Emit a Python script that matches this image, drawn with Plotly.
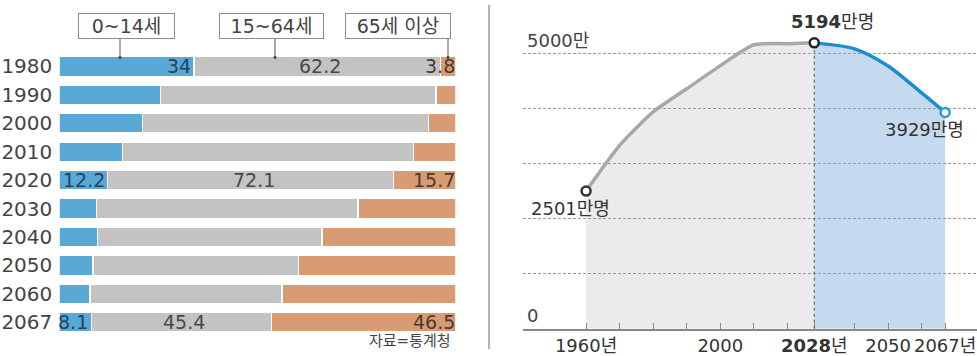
import plotly.graph_objects as go

# ---------------- data ----------------
bar_years = ["1980", "1990", "2000", "2010", "2020", "2030", "2040", "2050", "2060", "2067"]
age_0_14 = [34.0, 25.5, 21.0, 16.0, 12.2, 9.4, 9.6, 8.5, 7.8, 8.1]
age_15_64 = [62.2, 69.5, 72.2, 73.4, 72.1, 65.9, 56.7, 51.8, 48.4, 45.4]
age_65_up = [3.8, 5.0, 6.8, 10.6, 15.7, 24.7, 33.7, 39.7, 43.8, 46.5]
labeled_rows = ["1980", "2020", "2067"]
legend_names = ["0~14세", "15~64세", "65세 이상"]

past_years = [1960, 1970, 1980, 1990, 2000, 2010, 2020, 2028]
past_pop = [2501, 3330, 3940, 4360, 4780, 5160, 5180, 5194]
proj_years = [2028, 2040, 2050, 2060, 2067]
proj_pop = [5194, 5086, 4774, 4284, 3929]

x_tickvals = [1960, 1970, 1980, 1990, 2000, 2010, 2020, 2028, 2040, 2050, 2060, 2067]
x_ticktext = ["1960년", "", "", "", "2000", "", "", "<b>2028</b>년", "", "2050", "", "2067년"]
y_tickvals = [0, 1000, 2000, 3000, 4000, 5000]
y_ticktext = ["0", "", "", "", "", "5000만"]

FONT = "DejaVu Sans, Noto Sans CJK KR, sans-serif"
W, H = 977, 356

C_BLUE = "#59a8d6"
C_GRAY = "#c3c3c3"
C_ORANGE = "#d99b74"

fig = go.Figure()

# ---------------- left: stacked bars ----------------
for vals, col in [(age_0_14, C_BLUE), (age_15_64, C_GRAY), (age_65_up, C_ORANGE)]:
    fig.add_trace(go.Bar(
        y=bar_years, x=vals, orientation="h", xaxis="x", yaxis="y",
        marker=dict(color=col, line=dict(color="white", width=1.5)),
        hoverinfo="skip", showlegend=False))

annotations = []
for i, yr in enumerate(bar_years):
    if yr not in labeled_rows:
        continue
    b = age_0_14[i]
    g = age_15_64[i]
    o = age_65_up[i]
    annotations.append(dict(x=b, y=i, xref="x", yref="y", text=f"{b:g}", showarrow=False,
                            xanchor="right", xshift=-1, font=dict(size=19, color="#24435e", family=FONT)))
    annotations.append(dict(x=b + g / 2, y=i, xref="x", yref="y", text=f"{g:g}", showarrow=False,
                            xanchor="center", xshift=3, font=dict(size=19, color="#484848", family=FONT)))
    annotations.append(dict(x=b + g + o, y=i, xref="x", yref="y", text=f"{o:g}", showarrow=False,
                            xanchor="right", xshift=1, font=dict(size=19, color="#4a3a30", family=FONT)))

# legend boxes (pixel based decoration)
box_specs = [(legend_names[0], 126.5, 93, 120), (legend_names[1], 271.5, 101, 275), (legend_names[2], 398, 102, 448)]
shapes = []
for name, cx, w, px in box_specs:
    annotations.append(dict(x=cx / W, y=1 - 26 / H, xref="paper", yref="paper", text=name, showarrow=False,
                            xanchor="center", yanchor="middle", width=w, height=22, borderpad=1,
                            bordercolor="#8c8c8c", borderwidth=1, bgcolor="white",
                            font=dict(size=19, color="#444", family=FONT)))
    shapes.append(dict(type="line", xref="paper", yref="paper", x0=px / W, x1=px / W,
                       y0=1 - 39 / H, y1=1 - 58 / H, line=dict(color="#555", width=1)))
    shapes.append(dict(type="circle", xref="paper", yref="paper", x0=(px - 1.5) / W, x1=(px + 1.5) / W,
                       y0=1 - 59.5 / H, y1=1 - 56.5 / H, fillcolor="#444", line=dict(width=0)))

annotations.append(dict(x=453 / W, y=1 - 355 / H, xref="paper", yref="paper", text="자료=통계청",
                        showarrow=False, xanchor="right", yanchor="bottom",
                        font=dict(size=15, color="#444", family=FONT)))

# separator
shapes.append(dict(type="line", xref="paper", yref="paper", x0=489 / W, x1=489 / W, y0=4 / H, y1=1 - 5 / H,
                   line=dict(color="#b4b4b4", width=2)))

# ---------------- right: population line ----------------
fig.add_trace(go.Scatter(
    x=past_years, y=past_pop, xaxis="x2", yaxis="y2", mode="lines",
    line=dict(color="#a8a8a8", width=3.5, shape="spline", smoothing=0.6),
    fill="tozeroy", fillcolor="rgba(150,150,150,0.19)", hoverinfo="skip", showlegend=False))
fig.add_trace(go.Scatter(
    x=proj_years, y=proj_pop, xaxis="x2", yaxis="y2", mode="lines",
    line=dict(color="#1a8dd0", width=3.5, shape="spline", smoothing=0.8),
    fill="tozeroy", fillcolor="rgba(120,170,215,0.43)", hoverinfo="skip", showlegend=False))

# dotted vertical line at peak year
shapes.append(dict(type="line", xref="x2", yref="y2", x0=past_years[-1], x1=past_years[-1],
                   y0=0, y1=past_pop[-1] * 0.975, line=dict(color="#555", width=1, dash="dot")))

fig.add_trace(go.Scatter(
    x=[past_years[0], past_years[-1], proj_years[-1]],
    y=[past_pop[0], past_pop[-1], proj_pop[-1]],
    xaxis="x2", yaxis="y2", mode="markers",
    marker=dict(symbol="circle", size=9, color="white",
                line=dict(color=["#333", "#222", "#2a9ad6"], width=2.5)),
    hoverinfo="skip", showlegend=False))

annotations.append(dict(x=past_years[-1], y=past_pop[-1], xref="x2", yref="y2",
                        text=f"<b>{past_pop[-1]}</b>만명", showarrow=False,
                        xanchor="center", yanchor="bottom", xshift=18, yshift=9,
                        font=dict(size=18, color="#333", family=FONT)))
annotations.append(dict(x=proj_years[-1], y=proj_pop[-1], xref="x2", yref="y2",
                        text=f"{proj_pop[-1]}만명", showarrow=False,
                        xanchor="left", yanchor="top", xshift=-62, yshift=-5,
                        font=dict(size=18, color="#333", family=FONT)))
annotations.append(dict(x=past_years[0], y=past_pop[0], xref="x2", yref="y2",
                        text=f"{past_pop[0]}만명", showarrow=False,
                        xanchor="center", yanchor="top", xshift=-16, yshift=-5,
                        font=dict(size=18, color="#333", family=FONT)))

# y-axis labels of the right chart, sitting above their gridlines inside the plot
for v, t in zip(y_tickvals, y_ticktext):
    if t:
        annotations.append(dict(x=525 / W, y=v, xref="paper", yref="y2", text=t, showarrow=False,
                                xanchor="left", yanchor="bottom", yshift=1,
                                font=dict(size=18, color="#444", family=FONT)))

fig.update_layout(
    width=W, height=H, margin=dict(l=0, r=0, t=0, b=0),
    paper_bgcolor="white", plot_bgcolor="white",
    barmode="stack", bargap=0.30,
    font=dict(family=FONT, color="#333"),
    xaxis=dict(domain=[59.3 / W, 455.7 / W], range=[0, 100], visible=False, fixedrange=True),
    yaxis=dict(domain=[(H - 339.3) / H, 1 - 52.7 / H], type="category",
               categoryorder="array", categoryarray=bar_years,
               range=[len(bar_years) - 0.5, -0.5], autorange=False,
               showgrid=False, showline=False, zeroline=False, ticks="",
               ticklabelstandoff=6, tickfont=dict(size=20, color="#444", family=FONT)),
    xaxis2=dict(domain=[523 / W, 1.0], range=[1941.2, 2076.5], autorange=False, anchor="y2",
                tickmode="array", tickvals=x_tickvals, ticktext=x_ticktext, ticks="inside", ticklen=6,
                tickcolor="#888", tickwidth=1, showline=True, linecolor="#888", linewidth=1.5,
                showgrid=False, zeroline=False,
                tickfont=dict(size=18, color="#333", family=FONT)),
    yaxis2=dict(domain=[(H - 331.5) / H, 1.0], range=[0, 5973], autorange=False, anchor="x2",
                tickmode="array", tickvals=y_tickvals, showticklabels=False,
                showgrid=True, gridcolor="#9a9a9a", gridwidth=1, griddash="3px,2px",
                showline=False, zeroline=False, ticks=""),
    annotations=annotations, shapes=shapes,
)

fig.write_html("out.html")
